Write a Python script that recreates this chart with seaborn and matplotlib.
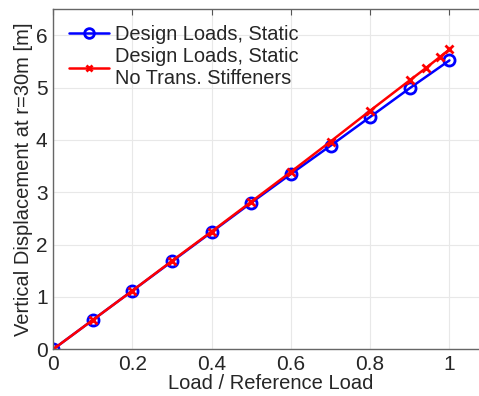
import matplotlib
matplotlib.use("Agg")
import matplotlib.pyplot as plt
import pandas as pd
import seaborn as sns

# values
load_static = [0.0, 0.1, 0.2, 0.3, 0.4, 0.5, 0.6, 0.7, 0.8, 0.9, 1.0]
disp_static = [0.0, 0.56, 1.12, 1.68, 2.24, 2.80, 3.35, 3.89, 4.44, 4.99, 5.52]

load_nostiff = [0.0, 0.1, 0.2, 0.3, 0.4, 0.5, 0.6, 0.7, 0.8, 0.9, 0.94, 0.975, 1.0]
disp_nostiff = [0.0, 0.56, 1.12, 1.69, 2.25, 2.82, 3.39, 3.97, 4.56, 5.14, 5.37, 5.58, 5.73]

label_static = "Design Loads, Static"
label_nostiff = "Design Loads, Static\nNo Trans. Stiffeners"

df_static = pd.DataFrame({"load": load_static, "disp": disp_static})
df_nostiff = pd.DataFrame({"load": load_nostiff, "disp": disp_nostiff})

sns.set_style("whitegrid")
plt.rcParams["font.family"] = ["Liberation Sans", "DejaVu Sans"]

fig = plt.figure(figsize=(4.79, 3.96), dpi=100)
ax = fig.add_axes([0.111, 0.118, 0.91, 0.859])

sns.lineplot(data=df_static, x="load", y="disp", color="#0000ff", marker="o",
             markersize=8, markerfacecolor="none", markeredgecolor="#0000ff",
             markeredgewidth=2.0, linewidth=1.8, label=label_static, ax=ax)
sns.lineplot(data=df_nostiff, x="load", y="disp", color="#ff0000", marker="x",
             markersize=5.5, markeredgecolor="#ff0000", markeredgewidth=2.0,
             linewidth=1.8, label=label_nostiff, ax=ax)

ax.set_xlim(0, 1.1)
ax.set_ylim(0, 6.5)
ax.set_xticks([0, 0.2, 0.4, 0.6, 0.8, 1.0])
ax.set_xticklabels(["0", "0.2", "0.4", "0.6", "0.8", "1"])
ax.set_yticks([0, 1, 2, 3, 4, 5, 6])
ax.tick_params(labelsize=15, direction="in", top=True, length=4, color="#555555")
ax.tick_params(axis="x", pad=4)
ax.tick_params(axis="y", pad=4)
ax.grid(color="#e8e8e8", linewidth=0.8)
for side in ["left", "bottom", "top", "right"]:
    ax.spines[side].set_color("#666666")
    ax.spines[side].set_linewidth(1.0)

ax.set_xlabel("Load / Reference Load", fontsize=14.5, labelpad=0)
ax.set_ylabel("Vertical Displacement at r=30m [m]", fontsize=14.5, labelpad=2)

leg = ax.legend(loc="upper left", fontsize=14.4, frameon=False, handlelength=2.0,
                handletextpad=0.3, borderaxespad=0.4, labelspacing=0.15)
for h in leg.legend_handles:
    if h.get_marker() == "o":
        h.set_markersize(7)
        h.set_markeredgewidth(2)
    else:
        h.set_markersize(5)
        h.set_markeredgewidth(2)

fig.savefig("out.png", dpi=100)
